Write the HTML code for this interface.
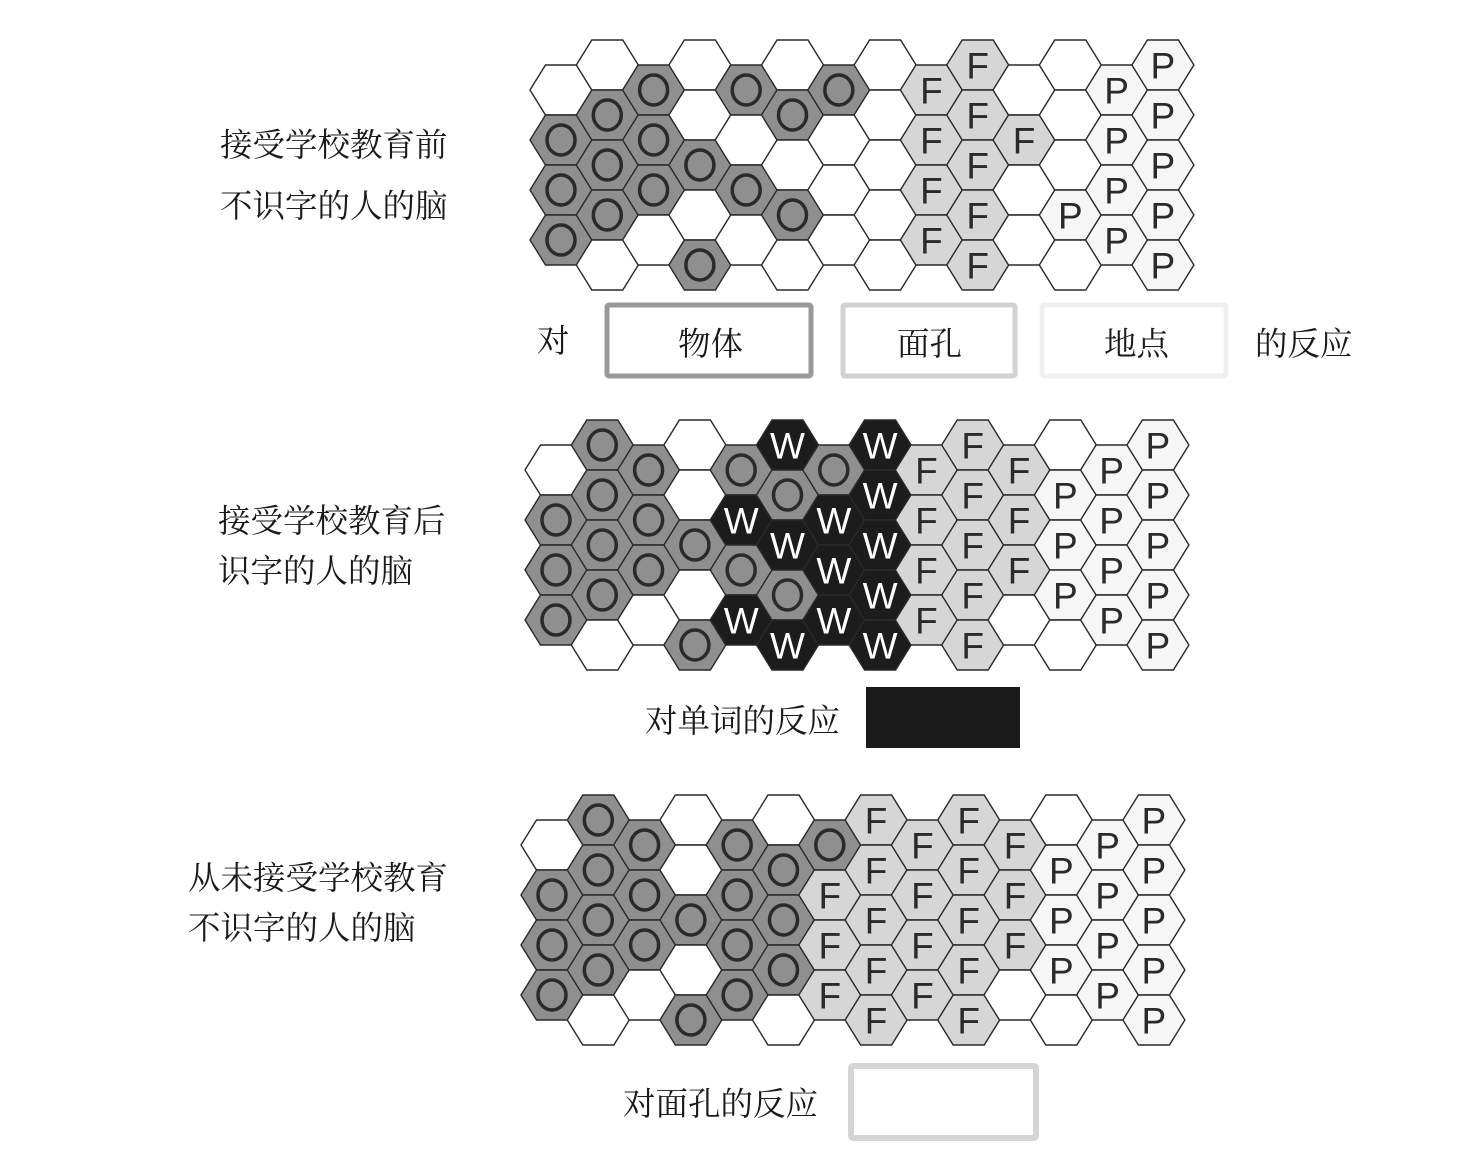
<!DOCTYPE html>
<html><head><meta charset="utf-8">
<style>
body{margin:0;background:#fff;}
svg{display:block;}
.lbl{font-family:"Liberation Serif","Noto Serif CJK SC",serif;font-size:32.5px;fill:#1a1a1a;}
.let{font-family:"Liberation Sans","DejaVu Sans",sans-serif;font-size:37px;text-anchor:middle;dominant-baseline:central;}
</style></head>
<body>
<svg id="fig" width="1477" height="1175" viewBox="0 0 1477 1175" xmlns="http://www.w3.org/2000/svg">
  <text class="lbl" x="220" y="156">接受学校教育前</text>
  <text class="lbl" x="220" y="217">不识字的人的脑</text>
  <text class="lbl" x="218" y="532">接受学校教育后</text>
  <text class="lbl" x="218" y="582">识字的人的脑</text>
  <text class="lbl" x="188" y="889">从未接受学校教育</text>
  <text class="lbl" x="188" y="939">不识字的人的脑</text>

  <g>
    <text class="lbl" x="537" y="352">对</text>
    <rect x="607" y="305" width="204" height="71" fill="#fff" stroke="#999" stroke-width="5" rx="2"/>
    <text class="lbl" x="678" y="355">物体</text>
    <rect x="843" y="305" width="172" height="71" fill="#fff" stroke="#d2d2d2" stroke-width="5" rx="2"/>
    <text class="lbl" x="897" y="355">面孔</text>
    <rect x="1042" y="305" width="184" height="71" fill="#fff" stroke="#f0f0f0" stroke-width="5" rx="2"/>
    <text class="lbl" x="1104" y="355">地点</text>
    <text class="lbl" x="1255" y="355">的反应</text>
  </g>
  <g>
    <text class="lbl" x="645" y="732">对单词的反应</text>
    <rect x="866" y="687" width="154" height="61" fill="#1a1a1a"/>
  </g>
  <g>
    <text class="lbl" x="623" y="1115">对面孔的反应</text>
    <rect x="851" y="1066" width="185" height="72" fill="#fff" stroke="#d5d5d5" stroke-width="6" rx="2"/>
  </g>
  <g id="grids"></g>
</svg>
<script>
// Cell categories per column (even columns have 4 cells, odd columns 5). "." = no response
const panel1Cols = [
  ".OOO", ".OOO.", "OOO.", "..O.O", "O.O.", ".O.O.", "O...", ".....",
  "FFFF", "FFFFF", ".F..", "...P.", "PPPP", "PPPPP"
];
const panel2Cols = [
  ".OOO", "OOOO.", "OOO.", "..O.O", "OWOW", "WOWOW", "OWWW", "WWWWW",
  "FFFF", "FFFFF", "FFF.", ".PPP.", "PPPP", "PPPPP"
];
const panel3Cols = [
  ".OOO", "OOOO.", "OOO.", "..O.O", "OOOO", ".OOO.", "OFFF", "FFFFF",
  "FFFF", "FFFFF", "FFF.", ".PPP.", "PPPP", "PPPPP"
];
const panelNames = ["before-school", "after-school", "never-schooled"];
const panels = [panel1Cols, panel2Cols, panel3Cols];
const origins = [[561, 40], [556, 420], [552, 795]];

const fills = {".": "#ffffff", "O": "#8f8f8f", "F": "#d6d6d6", "P": "#f6f6f6", "W": "#1c1c1c"};
const R = 31, H = 25, DX = 46.3, DY = 50;
const NS = "http://www.w3.org/2000/svg";
const root = document.getElementById("grids");

function colX(o, c){ return o[0] + c * DX; }
function rowY(o, c, r){ return o[1] + (c % 2 === 1 ? 25 : 50) + r * DY; }

panels.forEach((cols, p) => {
  const g = document.createElementNS(NS, "g");
  
  
  root.appendChild(g);
  const o = origins[p];
  cols.forEach((col, c) => {
    [...col].forEach((t, r) => {
      const cx = colX(o, c), cy = rowY(o, c, r);
      const poly = document.createElementNS(NS, "polygon");
      poly.setAttribute("points", [[cx-R,cy],[cx-R/2,cy-H],[cx+R/2,cy-H],[cx+R,cy],[cx+R/2,cy+H],[cx-R/2,cy+H]].map(a=>a.join(",")).join(" "));
      poly.setAttribute("fill", fills[t]);
      poly.setAttribute("stroke", "#2a2a2a");
      poly.setAttribute("stroke-width", "1.4");
      
      
      g.appendChild(poly);
      if (t === "O") {
        const ci = document.createElementNS(NS, "ellipse");
        ci.setAttribute("cx", cx); ci.setAttribute("cy", cy);
        ci.setAttribute("rx", 14); ci.setAttribute("ry", 15);
        ci.setAttribute("fill", "none"); ci.setAttribute("stroke", "#2a2a2a"); ci.setAttribute("stroke-width", "3.5");
        
        
        g.appendChild(ci);
      } else if (t !== ".") {
        const tx = document.createElementNS(NS, "text");
        tx.setAttribute("class", "let");
        tx.setAttribute("x", cx); tx.setAttribute("y", cy + 1);
        tx.setAttribute("fill", t === "W" ? "#ffffff" : "#2a2a2a");
        tx.textContent = t;
        
        
        g.appendChild(tx);
      }
    });
  });
});
</script>
</body></html>
